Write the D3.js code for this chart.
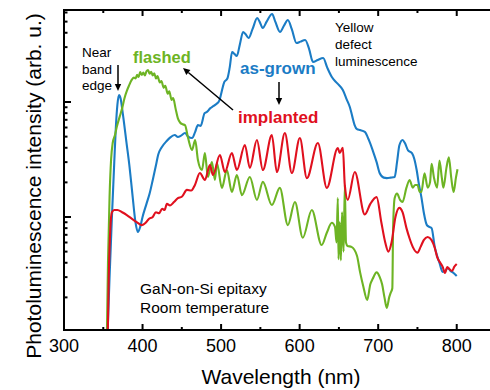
<!DOCTYPE html>
<html><head><meta charset="utf-8">
<script src="https://cdn.jsdelivr.net/npm/d3@7"></script>
<style>body{margin:0;background:#fff}svg{display:block}</style>
</head><body>
<svg id="chart" width="490" height="390"></svg>
<script>
// ---- data (wavelength nm, PL intensity arb. u.) ----
const asGrown = [[354,0.5],[358,3],[361,10],[364,30],[366,60],[368,95],[370,115],[372,108],[375,78],[380,42],[383,29],[387,16],[391,9],[394,7.4],[397,8.2],[400,10],[405,13],[409,16],[413,21],[417,28],[420,35],[424,40],[431,46],[435,49],[441,51.6],[445,49.6],[449,51],[454,53.7],[458,50],[463,48.6],[467,55],[470.5,63],[474,62],[479,80],[482,82],[486,88],[490,92],[494,96],[498,104],[501,125],[504,149],[508,160],[511,200],[514,272],[517,262],[520,251],[524,320],[528,406],[531,390],[535,360],[540,430],[546,537],[549,500],[553,440],[558,500],[565,582],[569,500],[575,406],[580,460],[585,516],[590,430],[596,326],[601,335],[607,346],[612,290],[617,223],[623,232],[630,241],[635,200],[641,165],[648,145],[655,127],[660,105],[664,90],[667,75],[670,63],[673,58],[677,57],[683,55],[688,47],[693,38],[698,30],[702,24],[707,22],[711,21.8],[716,22],[721,22.3],[724,30],[727,42],[731,46.7],[734,44],[738,38],[743,36],[746,32],[749,25.6],[752,19],[755,14.9],[758,11],[762,8.5],[765,8.2],[768,8.0],[772,5.5],[775,4.6],[778,4.0],[782,3.33],[785,3.4],[789,3.6],[792,3.4],[795,3.3],[800,3.07]];
const implanted = [[355,0.5],[357,3],[359,8],[361,11],[364,11.5],[368,11.5],[374,11],[380,10.4],[387,9.6],[393,9.0],[399,8.5],[404,8.9],[408,9.6],[413,10],[417,11],[421,10.8],[425,11.8],[428,11.5],[431,13],[435,12.6],[440,13.5],[445,14.6],[450,15],[456.5,17.2],[462,17],[466.7,19],[473,24.1],[479.4,21],[485.8,28.3],[489.6,23.2],[498.5,34.6],[504.8,24.6],[513.7,36],[520.1,25.6],[530.3,42.3],[536.6,26.7],[545.6,46.7],[553.2,25.6],[564.6,51.6],[571,24.6],[581.2,53.7],[590.1,24.1],[600.3,48.6],[609.2,21.8],[623.2,44],[634.6,17.9],[648.6,39.8],[651,36],[655,40],[657.5,19],[661.3,14.1],[670.2,24.6],[683,10.5],[690,13],[698,14.9],[704,9],[709,6],[713,5.0],[717,6],[722,10],[727,12],[731,11],[736,8],[740,6.5],[744,5.5],[750,4.9],[754,5.5],[758,6.3],[763,6.7],[768,6.3],[772,5.4],[775,4.5],[779,4.0],[782,3.7],[785,3.26],[788,3.67],[791,3.5],[794,3.4],[797,3.7],[800,3.9]];
const flashed = [[354,0.5],[356,4],[358,15],[360,32],[362,44],[365,52],[367,60],[371,75],[374,88],[377,108],[380,125],[383,140],[386,155],[389,163],[391,160],[393,172],[395,165],[397,182],[399,172],[401,180],[403,170],[405,185],[407,190],[409,176],[411,183],[413,170],[415,178],[417,160],[419,168],[422,148],[424,152],[427,133],[429,138],[432,118],[434,124],[437,104],[439,108],[442,88],[445,72],[448,66],[451,64],[454,63],[458,48.6],[463,38.3],[467,46.7],[470.5,31.3],[475.6,25.6],[479.4,36],[483.2,22.3],[488.3,30.1],[492.1,21],[494.7,29.5],[501,17.9],[507.4,25.6],[513.7,16.5],[520.1,23.2],[526.5,15.5],[536.6,22.3],[545.6,14.1],[553.2,20.2],[564.6,12.7],[574.8,17.9],[585,8.5],[594,13.5],[604,6.6],[615.5,11.5],[628,5.7],[634.6,7.3],[641,8.9],[645,8.2],[647,6],[648.6,14.6],[649.5,4.3],[651,9],[652.5,4.2],[654,11],[656,5],[657.5,19],[659,6],[661,5.6],[666,5.5],[673,4.6],[677,3.3],[681,2.5],[686,1.9],[690,2.6],[693,2.9],[698,3.3],[702,3.0],[705,2.6],[708,2.0],[711,1.62],[714,2.0],[716,2.2],[718,2.4],[719,8],[721,14.6],[724,16],[728,14],[731,13.5],[736,18],[740,21],[744,18],[747,19],[750,19],[753,16.5],[755,16.5],[759,24],[763,18],[766,20],[768,29],[771,22],[775,18],[778,31],[781,22],[783,18],[787,27],[790,33],[793,22],[796,16.5],[799,22],[801,26]];
const xTickLabels = [300, 400, 500, 600, 700, 800];
const xMinorTicks = [350, 450, 550, 650, 750];
const seriesNames = ["as-grown", "flashed", "implanted"];
const xTitle = "Wavelength (nm)";
const yTitle = "Photoluminescence intensity (arb. u.)";

// ---- layout ----
const L = 64, R = 496, T = 10, B = 330;
const svg = d3.select("#chart");
const x = d3.scaleLinear().domain([300, 850]).range([L, R]);
const y = d3.scaleLog().domain([1, 1000]).range([332, -13]);
const FONT = "'Liberation Sans', Arial, Helvetica, sans-serif";
const colors = {"as-grown": "#1b7cc5", "flashed": "#6db424", "implanted": "#e0101e"};

svg.append("defs").append("clipPath").attr("id", "clip")
  .append("rect").attr("x", L).attr("y", T).attr("width", R - L).attr("height", B - T);

const line = d3.line().x(d => x(d[0])).y(d => y(d[1])).curve(d3.curveMonotoneX);
const g = svg.append("g").attr("clip-path", "url(#clip)");
[["as-grown", asGrown], ["flashed", flashed], ["implanted", implanted]].forEach(([n, data]) => {
  g.append("path").datum(data).attr("d", line).attr("fill", "none")
    .attr("stroke", colors[n]).attr("stroke-width", 2.1).attr("stroke-linejoin", "round");
});

// frame
svg.append("rect").attr("x", L).attr("y", T).attr("width", R - L).attr("height", B - T)
  .attr("fill", "none").attr("stroke", "#000").attr("stroke-width", 2);

// x ticks (inward, bottom and top)
const xt = svg.append("g");
xTickLabels.forEach(v => {
  xt.append("line").attr("x1", x(v)).attr("x2", x(v)).attr("y1", B).attr("y2", B - 6).attr("stroke", "#000").attr("stroke-width", 2);
  xt.append("line").attr("x1", x(v)).attr("x2", x(v)).attr("y1", T).attr("y2", T + 6).attr("stroke", "#000").attr("stroke-width", 2);
  xt.append("text").attr("x", x(v)).attr("y", 352).attr("text-anchor", "middle")
    .attr("font-family", FONT).attr("font-size", 18).text(v);
});
xMinorTicks.forEach(v => {
  xt.append("line").attr("x1", x(v)).attr("x2", x(v)).attr("y1", B).attr("y2", B - 3).attr("stroke", "#000").attr("stroke-width", 2);
  xt.append("line").attr("x1", x(v)).attr("x2", x(v)).attr("y1", T).attr("y2", T + 3).attr("stroke", "#000").attr("stroke-width", 2);
});

// y ticks (log, inward, left)
const yt = svg.append("g");
[1, 10, 100].forEach(dec => {
  for (let k = 1; k <= 9; k++) {
    const v = dec * k, py = y(v);
    if (py < T + 1 || py > B - 1) continue;
    yt.append("line").attr("x1", L).attr("x2", L + (k === 1 ? 7 : 3.5)).attr("y1", py).attr("y2", py)
      .attr("stroke", "#000").attr("stroke-width", 2);
  }
});

// axis titles
svg.append("text").attr("x", (L + R) / 2 + 1).attr("y", 384).attr("text-anchor", "middle")
  .attr("font-family", FONT).attr("font-size", 21).text(xTitle);
svg.append("text").attr("transform", "translate(41," + 186 + ") rotate(-90)").attr("text-anchor", "middle")
  .attr("font-family", FONT).attr("font-size", 21).text(yTitle);

// annotations
const ann = svg.append("g").attr("font-family", FONT);
["Near", "band", "edge"].forEach((t, i) => ann.append("text").attr("x", 82).attr("y", 57 + i * 16.5).attr("font-size", 13.5).text(t));
["Yellow", "defect", "luminescence"].forEach((t, i) => ann.append("text").attr("x", 335).attr("y", 32 + i * 16.8).attr("font-size", 13.5).text(t));
ann.append("text").attr("x", 133).attr("y", 63).attr("font-size", 16.5).attr("font-weight", "bold").attr("fill", colors["flashed"]).text("flashed");
ann.append("text").attr("x", 240).attr("y", 74).attr("font-size", 17).attr("font-weight", "bold").attr("fill", colors["as-grown"]).text("as-grown");
ann.append("text").attr("x", 238).attr("y", 123).attr("font-size", 17).attr("font-weight", "bold").attr("fill", colors["implanted"]).text("implanted");
ann.append("text").attr("x", 140).attr("y", 294).attr("font-size", 15.5).text("GaN-on-Si epitaxy");
ann.append("text").attr("x", 140).attr("y", 313).attr("font-size", 15.5).text("Room temperature");

// arrows
function arrow(x1, y1, x2, y2) {
  const a = Math.atan2(y2 - y1, x2 - x1), h = 7, w = 3.2;
  const bx = x2 - h * Math.cos(a), by = y2 - h * Math.sin(a);
  ann.append("line").attr("x1", x1).attr("y1", y1).attr("x2", bx).attr("y2", by).attr("stroke", "#000").attr("stroke-width", 1.5);
  ann.append("path").attr("d", `M${x2},${y2}L${bx - w * Math.sin(a)},${by + w * Math.cos(a)}L${bx + w * Math.sin(a)},${by - w * Math.cos(a)}Z`).attr("fill", "#000");
}
arrow(118, 65, 118, 91);
arrow(279, 82, 279, 105);
arrow(233, 110, 183, 68);
</script>
</body></html>
